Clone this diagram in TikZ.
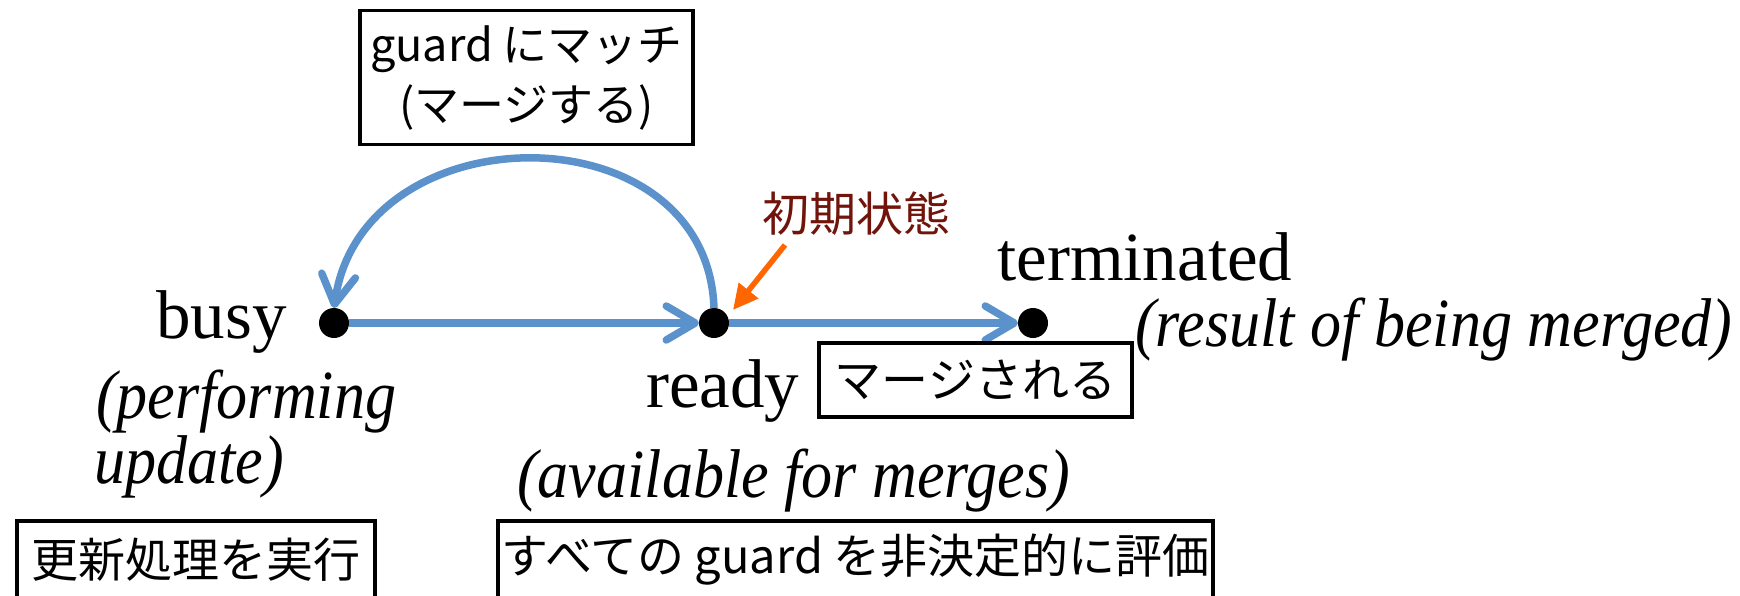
\documentclass[tikz,border=0pt]{standalone}
\usepackage{fontspec}
\setmainfont{Liberation Serif}
\newfontfamily\condserif{Liberation Serif}[FakeStretch=0.9]
\newfontfamily\jpfont{Noto Sans CJK JP}
\usetikzlibrary{arrows.meta}
\definecolor{flowblue}{RGB}{92,146,204}
\definecolor{initorange}{RGB}{255,102,0}
\definecolor{initred}{RGB}{112,20,12}

\tikzset{
  statedot/.style={circle,fill=black,minimum size=30pt,inner sep=0pt,outer sep=0pt},
  statename/.style={font=\fontsize{69}{80}\selectfont,inner sep=0pt},
  statenote/.style={font=\condserif\itshape\fontsize{69}{80}\selectfont,inner sep=0pt},
  notebox/.style={draw=black,line width=3.5pt,font=\jpfont\fontsize{47}{60}\selectfont,inner sep=0pt,align=center},
  flow/.style={draw=flowblue,line width=7.5pt,-{Straight Barb[length=29pt,width=34pt,round]}},
  initarrow/.style={draw=initorange,line width=5.5pt,-{Triangle[length=25pt,width=24pt]}}
}

\begin{document}
\begin{tikzpicture}[x=1pt,y=-1pt]
\useasboundingbox (0,0) rectangle (1740,595);
\clip (0,0) rectangle (1740,595);

% states
\node[statedot] (busy) at (334,323) {};
\node[statedot] (ready) at (714,323) {};
\node[statedot] (term) at (1033,323) {};

% transitions
\draw[flow] (busy) -- (ready);
\draw[flow] (ready) -- (term);
\draw[flow] (ready.north) to[out=92,in=82,looseness=1.35] (busy.north);

% state names
\node[statename,anchor=base east] (busyname) at (287,338) {busy};
\node[statename,anchor=base west] (readyname) at (646,407) {ready};
\node[statename,anchor=base west] (termname) at (997,280) {terminated};

% state descriptions
\node[statenote,anchor=base west] (busynote1) at (96,418) {(performing};
\node[statenote,anchor=base west] (busynote2) at (94,483) {update)};
\node[statenote,anchor=base west] (readynote) at (517,497) {(available for merges)};
\node[statenote,anchor=base west] (termnote) at (1135,346) {(result of being merged)};

% annotation boxes
\node[notebox,font=\jpfont\fontsize{45}{60}\selectfont,minimum width=333pt,minimum height=134pt] (matchbox) at (526.5,77.5) {guard にマッチ\\(マージする)};
\node[notebox,minimum width=313pt,minimum height=74pt] (mergedbox) at (975.5,380) {マージされる};
\node[notebox,minimum width=358pt,minimum height=78pt] (updatebox) at (196,560) {更新処理を実行};
\node[notebox,minimum width=715pt,minimum height=78pt] (evalbox) at (855.5,560) {すべての guard を非決定的に評価};

% initial state marker
\node[font=\jpfont\fontsize{47}{50}\selectfont,text=initred,inner sep=0pt] (initlabel) at (856,214) {初期状態};
\coordinate (inittail) at (785,245);
\coordinate (inittip) at (733,310);
\draw[initarrow] (inittail) -- (inittip);
\end{tikzpicture}
\end{document}
